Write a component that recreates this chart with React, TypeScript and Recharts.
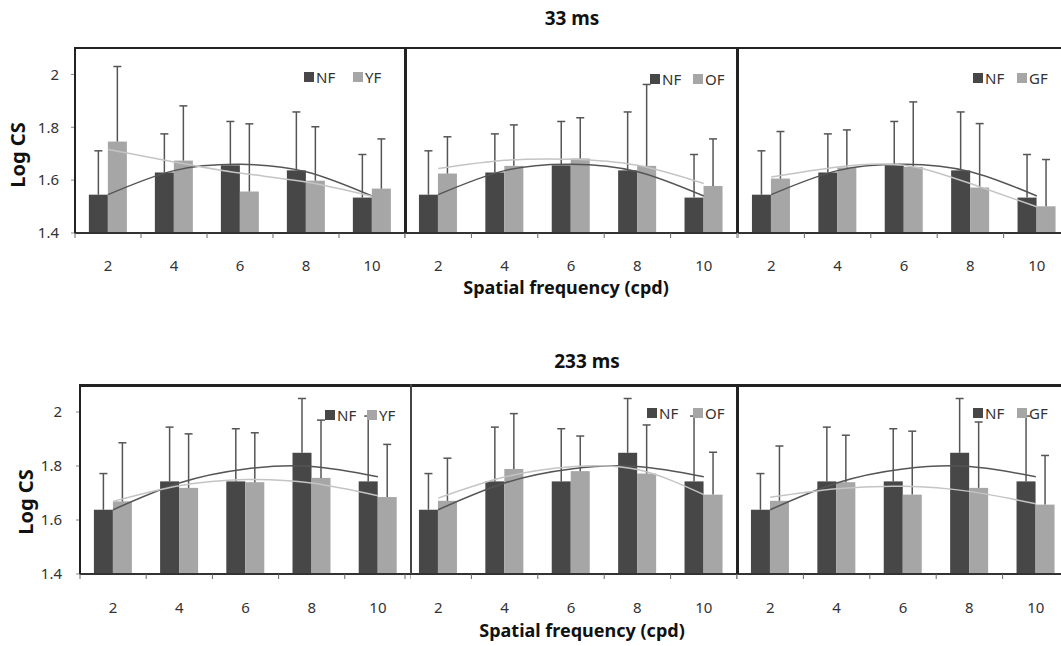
import React from "react";
import { ComposedChart, Bar, Line, XAxis, YAxis } from "recharts";

// spatial frequency categories (cpd)
const freq = ["2", "4", "6", "8", "10"];
const yTicks = [1.4, 1.6, 1.8, 2];
const Y_MIN = 1.4;
const Y_MAX = 2.1;

// 33 ms
const nf33 = [1.545, 1.629, 1.656, 1.637, 1.534];
const nf33Err = [0.166, 0.146, 0.166, 0.221, 0.163];
const nf33Fit = [1.545, 1.636, 1.66, 1.632, 1.54];
const yf33 = [1.746, 1.674, 1.557, 1.598, 1.568];
const yf33Err = [0.284, 0.207, 0.256, 0.204, 0.188];
const yf33Fit = [1.716, 1.669, 1.627, 1.593, 1.539];
const of33 = [1.625, 1.654, 1.682, 1.654, 1.578];
const of33Err = [0.139, 0.155, 0.154, 0.308, 0.178];
const of33Fit = [1.644, 1.675, 1.679, 1.656, 1.587];
const gf33 = [1.606, 1.648, 1.65, 1.572, 1.501];
const gf33Err = [0.178, 0.142, 0.246, 0.242, 0.177];
const gf33Fit = [1.612, 1.65, 1.656, 1.587, 1.499];

// 233 ms
const nf233 = [1.638, 1.743, 1.743, 1.849, 1.743];
const nf233Err = [0.134, 0.201, 0.195, 0.201, 0.242];
const nf233Fit = [1.638, 1.737, 1.789, 1.798, 1.76];
const yf233 = [1.669, 1.719, 1.74, 1.756, 1.685];
const yf233Err = [0.217, 0.2, 0.183, 0.214, 0.195];
const yf233Fit = [1.669, 1.727, 1.75, 1.737, 1.69];
const of233 = [1.671, 1.789, 1.781, 1.772, 1.694];
const of233Err = [0.158, 0.205, 0.13, 0.18, 0.157];
const of233Fit = [1.681, 1.759, 1.797, 1.787, 1.694];
const gf233 = [1.671, 1.74, 1.694, 1.719, 1.657];
const gf233Err = [0.203, 0.174, 0.235, 0.244, 0.182];
const gf233Fit = [1.684, 1.716, 1.725, 1.706, 1.66];

const DARK = "#474747";
const LIGHT = "#a6a6a6";
const FONT = "'Noto Sans', 'DejaVu Sans', sans-serif";

function rows(nf: number[], nfE: number[], nfF: number[], c: number[], cE: number[], cF: number[]) {
  return freq.map((f, i) => ({
    f,
    nf: nf[i],
    nfE: nfE[i],
    nfF: nfF[i],
    c: c[i],
    cE: cE[i],
    cF: cF[i],
  }));
}

const BarWithErr = (p: any, valKey: string, errKey: string) => {
  const { x, y, width, height, fill, payload } = p;
  const v = payload[valKey];
  const e = payload[errKey];
  const k = v > Y_MIN ? height / (v - Y_MIN) : 0;
  const cx = x + width / 2;
  const ty = y - e * k;
  return (
    <g>
      <rect x={x} y={y} width={width} height={height} fill={fill} />
      <line x1={cx} x2={cx} y1={y} y2={ty} stroke="#555" strokeWidth={1.5} />
      <line x1={cx - 4} x2={cx + 4} y1={ty} y2={ty} stroke="#555" strokeWidth={1.5} />
    </g>
  );
};

const CatTick = (p: any, band: number, labelOff: number) => {
  const { x, y, payload, index } = p;
  const last = index === freq.length - 1;
  return (
    <g>
      <line x1={x - band / 2} x2={x - band / 2} y1={y} y2={y + 5} stroke="#666" strokeWidth={1} />
      {last && <line x1={x + band / 2} x2={x + band / 2} y1={y} y2={y + 5} stroke="#666" strokeWidth={1} />}
      <text x={x} y={y + labelOff} textAnchor="middle" dominantBaseline="central" fontSize={15} fill="#333" fontFamily={FONT}>
        {payload.value}
      </text>
    </g>
  );
};

type PanelProps = {
  left: number;
  top: number;
  width: number;
  height: number;
  data: any[];
  yLabels: boolean;
  yTickMargin: number;
  labelOff: number;
};

const YW = 60;

function Panel({ left, top, width, height, data, yLabels, yTickMargin, labelOff }: PanelProps) {
  const band = width / freq.length;
  return (
    <div style={{ position: "absolute", left: left - YW, top: top - 10 }}>
      <ComposedChart
        width={width + YW}
        height={height + 10 + 45}
        data={data}
        margin={{ top: 10, right: 0, bottom: 0, left: 0 }}
        barCategoryGap="21%"
        barGap={0}
      >
        <XAxis
          dataKey="f"
          interval={0}
          height={45}
          tickLine={false}
          tickSize={0}
          tickMargin={0}
          axisLine={{ stroke: "#333", strokeWidth: 2 }}
          tick={(p: any) => CatTick(p, band, labelOff)}
        />
        <YAxis
          width={YW}
          domain={[Y_MIN, Y_MAX]}
          ticks={yTicks}
          allowDataOverflow
          tickSize={4}
          tickMargin={yTickMargin}
          tickLine={{ stroke: "#888" }}
          axisLine={yLabels ? { stroke: "#888" } : false}
          tick={yLabels ? { fontSize: 15, fill: "#333", fontFamily: FONT } : false}
        />
        <Bar dataKey="nf" fill={DARK} isAnimationActive={false} shape={(p: any) => BarWithErr(p, "nf", "nfE")} />
        <Bar dataKey="c" fill={LIGHT} isAnimationActive={false} shape={(p: any) => BarWithErr(p, "c", "cE")} />
        <Line type="natural" dataKey="nfF" stroke="#555" strokeWidth={1.5} dot={false} isAnimationActive={false} />
        <Line type="natural" dataKey="cF" stroke="#c4c4c4" strokeWidth={1.5} dot={false} isAnimationActive={false} />
      </ComposedChart>
    </div>
  );
}

function LegendItems({ x1, x2, y, label }: { x1: number; x2: number; y: number; label: string }) {
  const item = (x: number, color: string, text: string) => (
    <div style={{ position: "absolute", left: x, top: y - 10, height: 20, display: "flex", alignItems: "center" }}>
      <div style={{ width: 10, height: 10, background: color, marginRight: 2 }} />
      <span style={{ fontSize: 15, color: "#333", fontFamily: FONT, lineHeight: "20px" }}>{text}</span>
    </div>
  );
  return (
    <>
      {item(x1, DARK, "NF")}
      {item(x2, LIGHT, label)}
    </>
  );
}

const line = (l: number, t: number, w: number, h: number, c = "#222") => (
  <div style={{ position: "absolute", left: l, top: t, width: w, height: h, background: c }} />
);

export default function App() {
  const topRows = [
    rows(nf33, nf33Err, nf33Fit, yf33, yf33Err, yf33Fit),
    rows(nf33, nf33Err, nf33Fit, of33, of33Err, of33Fit),
    rows(nf33, nf33Err, nf33Fit, gf33, gf33Err, gf33Fit),
  ];
  const botRows = [
    rows(nf233, nf233Err, nf233Fit, yf233, yf233Err, yf233Fit),
    rows(nf233, nf233Err, nf233Fit, of233, of233Err, of233Fit),
    rows(nf233, nf233Err, nf233Fit, gf233, gf233Err, gf233Fit),
  ];

  const title: React.CSSProperties = {
    position: "absolute",
    fontFamily: FONT,
    fontWeight: "bold",
    color: "#111",
    whiteSpace: "nowrap",
    transform: "translate(-50%, -50%)",
  };

  return (
    <div
      style={{
        position: "absolute",
        left: 0,
        top: 0,
        width: 1061,
        height: 646,
        overflow: "hidden",
        background: "#fff",
        fontFamily: FONT,
      }}
    >
      <Panel left={75} top={48} width={330} height={185} data={topRows[0]} yLabels yTickMargin={12} labelOff={32} />
      <Panel left={405} top={48} width={332} height={185} data={topRows[1]} yLabels={false} yTickMargin={12} labelOff={32} />
      <Panel left={738} top={48} width={332} height={185} data={topRows[2]} yLabels={false} yTickMargin={12} labelOff={32} />

      <Panel left={80} top={385} width={331} height={189} data={botRows[0]} yLabels yTickMargin={14} labelOff={33} />
      <Panel left={405} top={385} width={332} height={189} data={botRows[1]} yLabels={false} yTickMargin={14} labelOff={33} />
      <Panel left={737} top={385} width={332} height={189} data={botRows[2]} yLabels={false} yTickMargin={14} labelOff={33} />

      {/* frames, top row */}
      {line(74, 47, 990, 2)}
      {line(74, 47, 2, 186)}
      {line(404, 47, 3, 186)}
      {line(736, 47, 3, 186)}
      {/* frames, bottom row */}
      {line(79, 384, 985, 3)}
      {line(79, 384, 2, 190)}
      {line(410, 384, 2, 190, "#444")}
      {line(736, 384, 3, 190)}

      <LegendItems x1={304} x2={353} y={77} label="YF" />
      <LegendItems x1={650} x2={693} y={79} label="OF" />
      <LegendItems x1={973} x2={1017} y={78} label="GF" />
      <LegendItems x1={325} x2={367} y={415} label="YF" />
      <LegendItems x1={647} x2={693} y={413} label="OF" />
      <LegendItems x1={973} x2={1017} y={413} label="GF" />

      <div style={{ ...title, left: 572, top: 18, fontSize: 19 }}>33 ms</div>
      <div style={{ ...title, left: 587, top: 361, fontSize: 19 }}>233 ms</div>
      <div style={{ ...title, left: 566, top: 287, fontSize: 18 }}>Spatial frequency (cpd)</div>
      <div style={{ ...title, left: 582, top: 630, fontSize: 18 }}>Spatial frequency (cpd)</div>
      <div style={{ ...title, left: 17, top: 155, fontSize: 20, transform: "translate(-50%, -50%) rotate(-90deg)" }}>Log CS</div>
      <div style={{ ...title, left: 25, top: 502, fontSize: 20, transform: "translate(-50%, -50%) rotate(-90deg)" }}>Log CS</div>
    </div>
  );
}
